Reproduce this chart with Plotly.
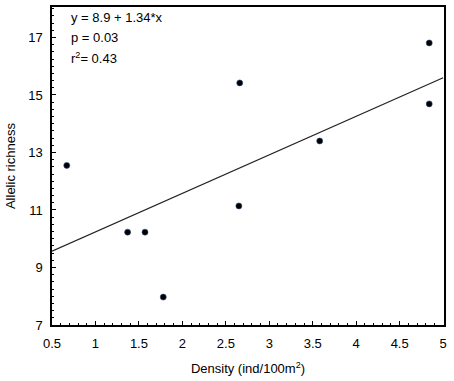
import plotly.graph_objects as go

density = [0.67, 1.37, 1.57, 1.78, 2.65, 2.66, 3.58, 4.84, 4.84]
richness = [12.55, 10.23, 10.23, 7.97, 11.14, 15.42, 13.4, 16.81, 14.69]
intercept = 8.9
slope = 1.34
line_x = [0.5, 5.0]
line_y = [intercept + slope * x for x in line_x]
x_ticks = [0.5, 1, 1.5, 2, 2.5, 3, 3.5, 4, 4.5, 5]
y_ticks = [7, 9, 11, 13, 15, 17]

font = "Liberation Sans, Arial, sans-serif"

fig = go.Figure()
fig.add_trace(go.Scatter(x=line_x, y=line_y, mode="lines",
                         line=dict(color="#222222", width=1.2), showlegend=False))
fig.add_trace(go.Scatter(x=density, y=richness, mode="markers",
                         marker=dict(color="black", size=6,
                                     line=dict(color="#2a4a7a", width=0.6)),
                         showlegend=False))

fig.update_layout(
    width=454, height=381,
    margin=dict(l=52, r=10, t=7, b=56),
    paper_bgcolor="white", plot_bgcolor="white",
    font=dict(family=font, size=13, color="black"),
    xaxis=dict(range=[0.5, 5.01], tickvals=x_ticks,
               ticktext=[str(v) for v in x_ticks], automargin=False,
               showgrid=False, zeroline=False, ticklabelstandoff=6,
               showline=True, linecolor="black", linewidth=1.5, mirror=True,
               ticks="inside", ticklen=4, tickcolor="black",
               minor=dict(ticks="inside", ticklen=2, dtick=0.1, tickcolor="black"),
               title=dict(text="Density (ind/100m<sup>2</sup>)", font=dict(size=13), standoff=14)),
    yaxis=dict(range=[7, 18.06], tickvals=y_ticks, automargin=False,
               showgrid=False, zeroline=False, ticklabelstandoff=5,
               showline=True, linecolor="black", linewidth=1.5, mirror=True,
               ticks="inside", ticklen=4, tickcolor="black",
               minor=dict(ticks="inside", ticklen=2, dtick=0.25, tick0=7, tickcolor="black")),
)

fig.add_annotation(x=-0.107, y=0.5, xref="paper", yref="paper", text="Allelic richness",
                   textangle=-90, showarrow=False, xanchor="center", yanchor="middle",
                   font=dict(size=13, family=font))

for txt, yv in [("y = 8.9 + 1.34*x", 17.7), ("p = 0.03", 17.0), ("r<sup>2</sup>= 0.43", 16.27)]:
    fig.add_annotation(x=0.7, y=yv, xref="x", yref="y", text=txt, showarrow=False,
                       xanchor="left", yanchor="middle", font=dict(size=13, family=font))

fig.write_html("out.html", config={"displayModeBar": False},
               post_script="document.body.style.margin='0';document.body.style.overflow='hidden';")
